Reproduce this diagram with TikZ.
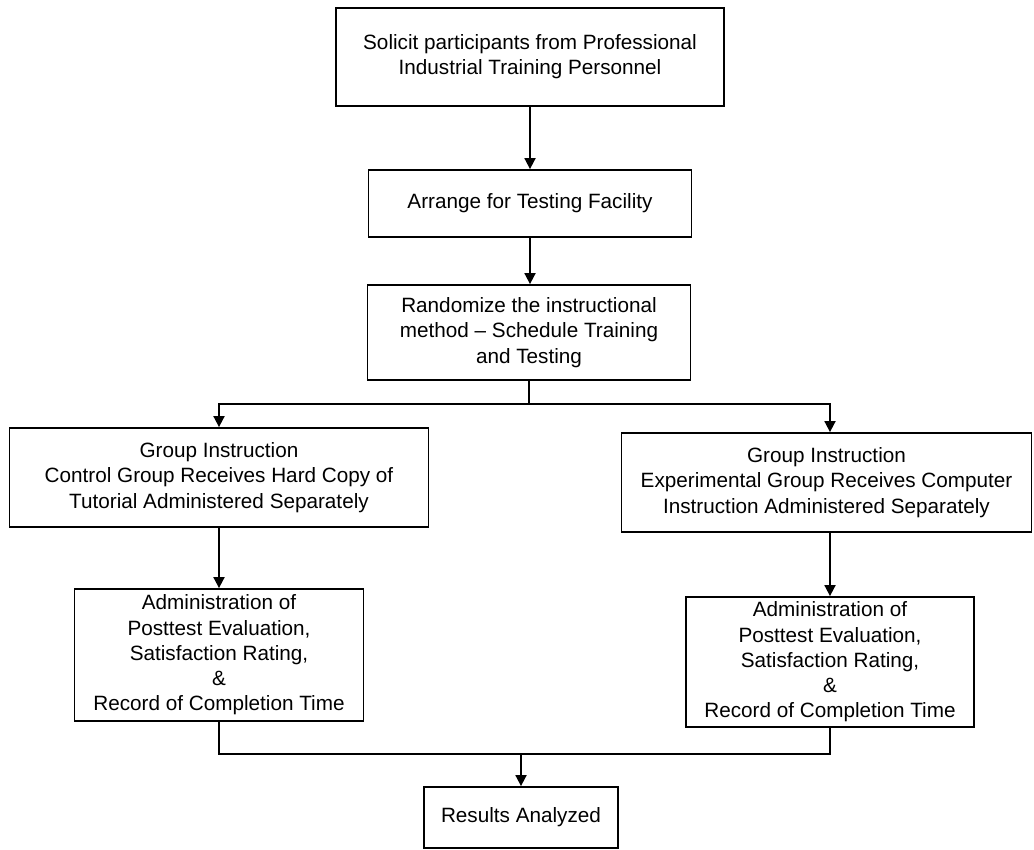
\documentclass[tikz,border=0pt]{standalone}
\usepackage{fontspec}
\setmainfont{Liberation Sans}
\usetikzlibrary{arrows.meta}
\begin{document}
\begin{tikzpicture}[x=1pt,y=-1pt,
  box/.style={draw=black, line width=1.8pt, align=center, inner sep=0pt,
    font=\fontsize{20.7}{25.3}\selectfont, text=black},
  conn/.style={draw=black, line width=1.8pt},
  arr/.style={conn, -{Triangle[width=11pt,length=11pt]}}]
\useasboundingbox (0,0) rectangle (1034,850);
\fill[white] (0,0) rectangle (1034,850);

\node[box, minimum width=388pt, minimum height=98pt] (b1) at (530,57)
  {Solicit participants from Professional\\Industrial Training Personnel};
\node[box, minimum width=323pt, minimum height=67pt] (b2) at (530,203.5)
  {Arrange for Testing Facility};
\node[box, minimum width=323pt, minimum height=95pt] (b3) at (529,332.5)
  {Randomize the instructional\\method -- Schedule Training\\and Testing};
\node[box, minimum width=419pt, minimum height=99pt] (b4) at (219,477.5)
  {Group Instruction\\Control Group Receives Hard Copy of\\Tutorial Administered Separately};
\node[box, minimum width=410pt, minimum height=99pt] (b5) at (826.5,482.5)
  {Group Instruction\\Experimental Group Receives Computer\\Instruction Administered Separately};
\node[box, minimum width=289pt, minimum height=132pt] (b6) at (219,655)
  {Administration of\\Posttest Evaluation,\\Satisfaction Rating,\\\&\\Record of Completion Time};
\node[box, minimum width=288pt, minimum height=130pt] (b7) at (830,662)
  {Administration of\\Posttest Evaluation,\\Satisfaction Rating,\\\&\\Record of Completion Time};
\node[box, minimum width=194pt, minimum height=61pt] (b8) at (521,817.5)
  {Results Analyzed};

\coordinate (split) at (529,404);
\coordinate (merge) at (521,754);

\draw[arr] (b1.south) -- (b1.south |- b2.north);
\draw[arr] (b2.south) -- (b2.south |- b3.north);
\draw[conn] (b3.south) -- (split);
\draw[arr] (split) -| (b4.north);
\draw[arr] (split) -| (b7.north |- b5.north);
\draw[arr] (b4.south) -- (b6.north);
\draw[arr] (b5.south -| b7.north) -- (b7.north);
\draw[conn] (b6.south) |- (merge) -| (b7.south);
\draw[arr] (merge) -- (b8.north);
\end{tikzpicture}
\end{document}
